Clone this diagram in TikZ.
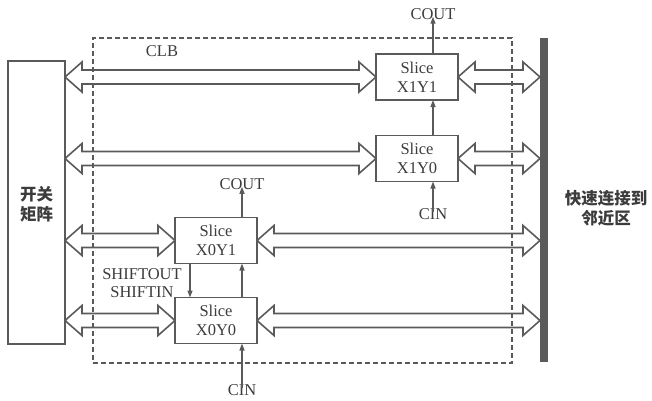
\documentclass[tikz,border=0pt]{standalone}
\usepackage{fontspec}
\setmainfont{Liberation Serif}
\newfontfamily\cjk{Noto Sans CJK SC}
\usetikzlibrary{calc,arrows.meta}
\definecolor{ln}{HTML}{5A5A5A}
\definecolor{tx}{HTML}{3C3C3C}
\tikzset{
  slicebox/.style={draw=ln, line width=1.6pt, minimum width=82pt, minimum height=46pt, outer sep=0pt, inner sep=0pt, align=center, text=tx, font=\fontsize{16.5}{19}\selectfont},
  lbl/.style={text=tx, font=\fontsize{16.5}{19}\selectfont, inner sep=0pt, align=center},
  cjklbl/.style={text=tx, font=\cjk\bfseries\fontsize{16.5}{20}\selectfont, inner sep=0pt, align=center},
  harrow/.style={draw=ln, line width=1.6pt, line join=miter},
  sarrow/.style={draw=ln, line width=1.3pt, -{Triangle[length=7pt,width=5pt]}},
}
\newcommand\hollow[2]{\draw[harrow] let \p1=(#1), \p2=(#2) in
  (\x1,\y1) -- (\x1+17pt,\y1+15pt) -- (\x1+17pt,\y1+7pt) -- (\x2-17pt,\y1+7pt) -- (\x2-17pt,\y1+15pt) --
  (\x2,\y1) -- (\x2-17pt,\y1-15pt) -- (\x2-17pt,\y1-7pt) -- (\x1+17pt,\y1-7pt) -- (\x1+17pt,\y1-15pt) -- cycle;}
\begin{document}
\begin{tikzpicture}[x=1pt,y=-1pt]
\useasboundingbox (0,0) rectangle (652,400);
% CLB dashed box
\node[draw=ln, line width=1.1pt, dash pattern=on 5pt off 3pt, minimum width=419pt, minimum height=325pt, inner sep=0pt] (clb) at (302.5,200.5) {};
\node[lbl] (clblbl) at (162,51) {CLB};
% switch matrix
\node[draw=ln, line width=1.6pt, minimum width=57pt, minimum height=283pt, outer sep=0pt, inner sep=0pt] (sw) at (36.5,202.5) {};
\node[cjklbl] (swl) at (36.5,204) {开关\\矩阵};
% fast connect bar
\node[fill=ln, minimum width=8pt, minimum height=324pt, inner sep=0pt, outer sep=0pt] (bar) at (544,200) {};
\node[cjklbl] (barl) at (606,208) {快速连接到\\邻近区};
% slices
\node[slicebox] (s11) at (417,77) {Slice\\X1Y1};
\node[slicebox] (s10) at (417,158.5) {Slice\\X1Y0};
\node[slicebox] (s01) at (216,240.5) {Slice\\X0Y1};
\node[slicebox] (s00) at (216,320.5) {Slice\\X0Y0};
% hollow double arrows
\hollow{sw.east |- s11.west}{s11.west}
\hollow{sw.east |- s10.west}{s10.west}
\hollow{sw.east |- s01.west}{s01.west}
\hollow{sw.east |- s00.west}{s00.west}
\hollow{s11.east}{bar.west |- s11.east}
\hollow{s10.east}{bar.west |- s10.east}
\hollow{s01.east}{bar.west |- s01.east}
\hollow{s00.east}{bar.west |- s00.east}
% carry chain labels
\node[lbl] (cout1) at (433,14) {COUT};
\node[lbl] (cin1) at (433,214) {CIN};
\node[lbl] (cout2) at (242,184) {COUT};
\node[lbl] (cin2) at (242,390) {CIN};
\node[lbl] (shout) at (142,274) {SHIFTOUT};
\node[lbl] (shin) at (142,292) {SHIFTIN};
% carry arrows
\draw[sarrow] (cout1.south |- s11.north) -- ([yshift=3pt]cout1.south);
\draw[sarrow] (cout1.south |- s10.north) -- (cout1.south |- s11.south);
\draw[sarrow] ([yshift=-4pt]cin1.north) -- (cin1.north |- s10.south);
\draw[sarrow] (cout2.south |- s01.north) -- ([yshift=3pt]cout2.south);
\draw[sarrow] (cout2.south |- s00.north) -- (cout2.south |- s01.south);
\draw[sarrow] ([yshift=-4pt]cin2.north) -- (cin2.north |- s00.south);
\coordinate (shx) at (190,0);
\draw[sarrow] (shx |- s01.south) -- (shx |- s00.north);
\end{tikzpicture}
\end{document}
